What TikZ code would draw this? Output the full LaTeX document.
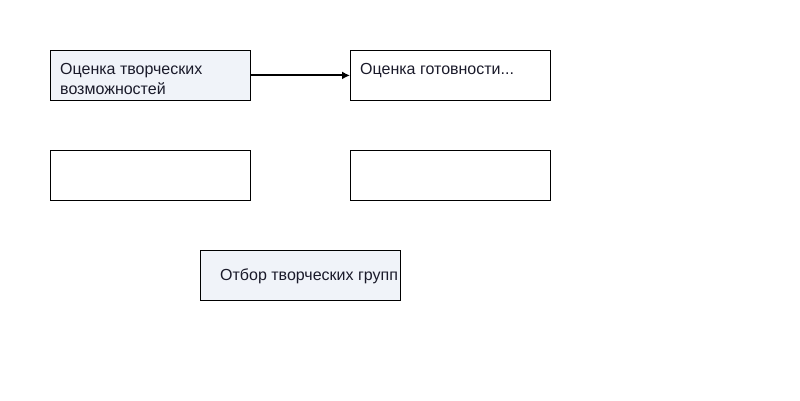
\documentclass[tikz,border=0pt]{standalone}
\usepackage{fontspec}
\setmainfont{Liberation Sans}
\usetikzlibrary{arrows.meta,positioning}
\definecolor{boxfill}{HTML}{F0F3F9}
\definecolor{txt}{HTML}{1A1A2A}
\tikzset{
	stage/.style={draw=black, line width=0.8pt, minimum width=200pt, minimum height=50pt, inner sep=0pt, anchor=north west},
	filled/.style={stage, fill=boxfill},
	label/.style={text=txt, font=\fontsize{16}{20}\selectfont, align=left, inner sep=0pt, anchor=north west}
}
\begin{document}
\begin{tikzpicture}[x=1pt,y=-1pt]
					\useasboundingbox (0,0) rectangle (800,400);
					\node[filled] (score) at (50,50) {};
					\node[stage] (ready) at (350,50) {};
					\node[stage] (emptyA) at (50,150) {};
					\node[stage] (emptyB) at (350,150) {};
					\node[filled] (select) at (200,250) {};
					\node[label] at (60,63) {Оценка творческих\\возможностей};
					\node[label] at (360,63) {Оценка готовности...};
					\node[label, anchor=west] at (220,276) {Отбор творческих групп};
					\draw[line width=2pt, -{Latex[length=8pt,width=8pt]}] (score.east) -- (ready.west);
				\end{tikzpicture}
\end{document}
